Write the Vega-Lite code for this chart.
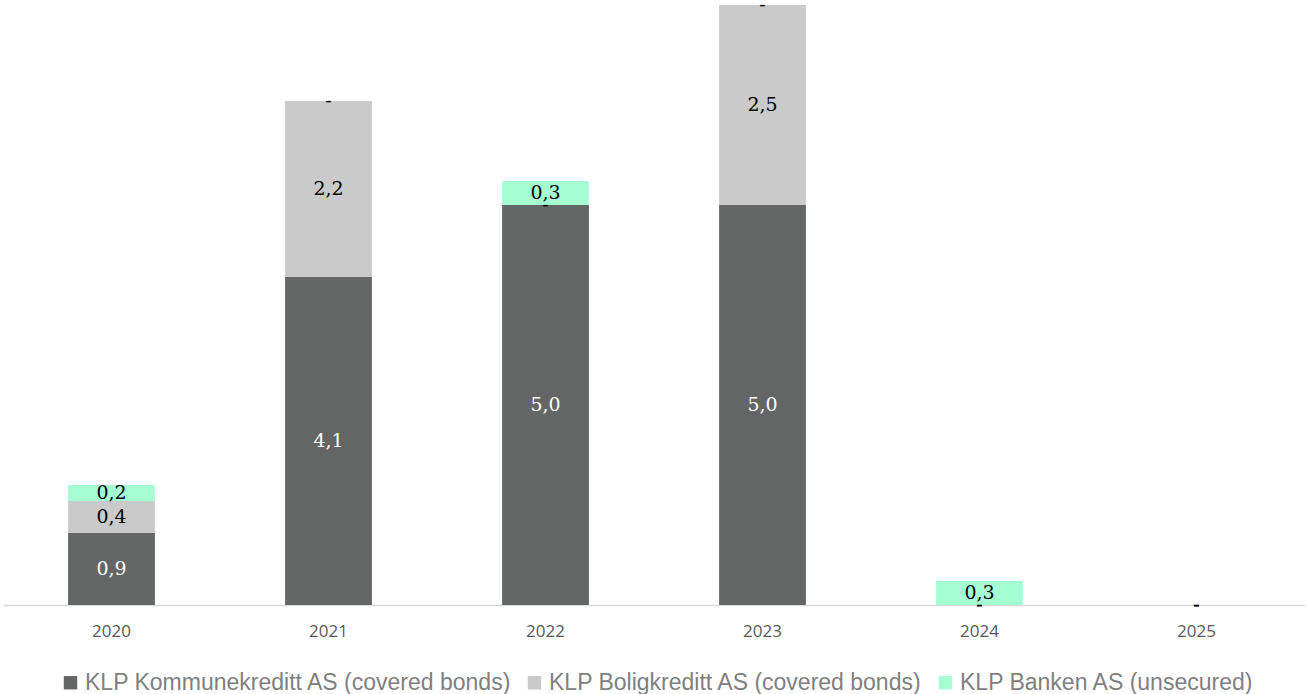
{
  "$schema": "https://vega.github.io/schema/vega-lite/v6.json",
  "width": 1302,
  "height": 600,
  "autosize": {"type": "none"},
  "padding": {"left": 3, "top": 5, "right": 1, "bottom": 89},
  "background": "white",
  "config": {"view": {"stroke": null}},
  "data": {
    "values": [
      {"year": "2020", "series": "KLP Kommunekreditt AS (covered bonds)", "value": 0.9},
      {"year": "2020", "series": "KLP Boligkreditt AS (covered bonds)", "value": 0.4},
      {"year": "2020", "series": "KLP Banken AS (unsecured)", "value": 0.2},
      {"year": "2021", "series": "KLP Kommunekreditt AS (covered bonds)", "value": 4.1},
      {"year": "2021", "series": "KLP Boligkreditt AS (covered bonds)", "value": 2.2},
      {"year": "2021", "series": "KLP Banken AS (unsecured)", "value": 0},
      {"year": "2022", "series": "KLP Kommunekreditt AS (covered bonds)", "value": 5.0},
      {"year": "2022", "series": "KLP Boligkreditt AS (covered bonds)", "value": 0},
      {"year": "2022", "series": "KLP Banken AS (unsecured)", "value": 0.3},
      {"year": "2023", "series": "KLP Kommunekreditt AS (covered bonds)", "value": 5.0},
      {"year": "2023", "series": "KLP Boligkreditt AS (covered bonds)", "value": 2.5},
      {"year": "2023", "series": "KLP Banken AS (unsecured)", "value": 0},
      {"year": "2024", "series": "KLP Kommunekreditt AS (covered bonds)", "value": 0},
      {"year": "2024", "series": "KLP Boligkreditt AS (covered bonds)", "value": 0},
      {"year": "2024", "series": "KLP Banken AS (unsecured)", "value": 0.3},
      {"year": "2025", "series": "KLP Kommunekreditt AS (covered bonds)", "value": 0},
      {"year": "2025", "series": "KLP Boligkreditt AS (covered bonds)", "value": 0},
      {"year": "2025", "series": "KLP Banken AS (unsecured)", "value": 0}
    ]
  },
  "transform": [
    {"stack": "value", "groupby": ["year"], "sort": [{"field": "series", "order": "descending"}], "as": ["y0", "y1"]},
    {"calculate": "(datum.y0 + datum.y1) / 2", "as": "ymid"},
    {"calculate": "datum.value === 0 ? '-' : replace(format(datum.value, '.1f'), '.', ',')", "as": "label"}
  ],
  "encoding": {
    "x": {
      "field": "year",
      "type": "nominal",
      "scale": {"paddingInner": 0.6, "paddingOuter": 0.3},
      "axis": {
        "title": null,
        "labelAngle": 0,
        "ticks": false,
        "domainColor": "#D9D9D9",
        "domainWidth": 1.5,
        "labelColor": "#595959",
        "labelFont": "Open Sans",
        "labelFontSize": 17,
        "labelPadding": 18
      }
    }
  },
  "layer": [
    {
      "mark": {"type": "bar"},
      "encoding": {
        "y": {"field": "y0", "type": "quantitative", "scale": {"domain": [0, 7.5], "nice": false}, "axis": null},
        "y2": {"field": "y1"},
        "color": {
          "field": "series",
          "type": "nominal",
          "scale": {
            "domain": ["KLP Kommunekreditt AS (covered bonds)", "KLP Boligkreditt AS (covered bonds)", "KLP Banken AS (unsecured)"],
            "range": ["#636665", "#C9CAC9", "#A6FFD3"]
          },
          "legend": {
            "title": null,
            "orient": "none",
            "direction": "horizontal",
            "legendX": 56,
            "legendY": 666,
            "symbolType": "square",
            "symbolSize": 180,
            "symbolStrokeWidth": 0,
            "labelFont": "Liberation Sans",
            "labelFontSize": 23,
            "labelColor": "#7F7F7F",
            "columnPadding": 11,
            "labelOffset": 3,
            "labelLimit": 600
          }
        }
      }
    },
    {
      "mark": {"type": "text", "font": "DejaVu Serif", "fontSize": 19, "baseline": "middle", "align": "center"},
      "encoding": {
        "y": {"field": "ymid", "type": "quantitative", "scale": {"domain": [0, 7.5], "nice": false}},
        "text": {"field": "label"},
        "color": {
          "condition": {"test": "datum.series === 'KLP Kommunekreditt AS (covered bonds)' && datum.value > 0", "value": "white"},
          "value": "black"
        }
      }
    }
  ]
}
